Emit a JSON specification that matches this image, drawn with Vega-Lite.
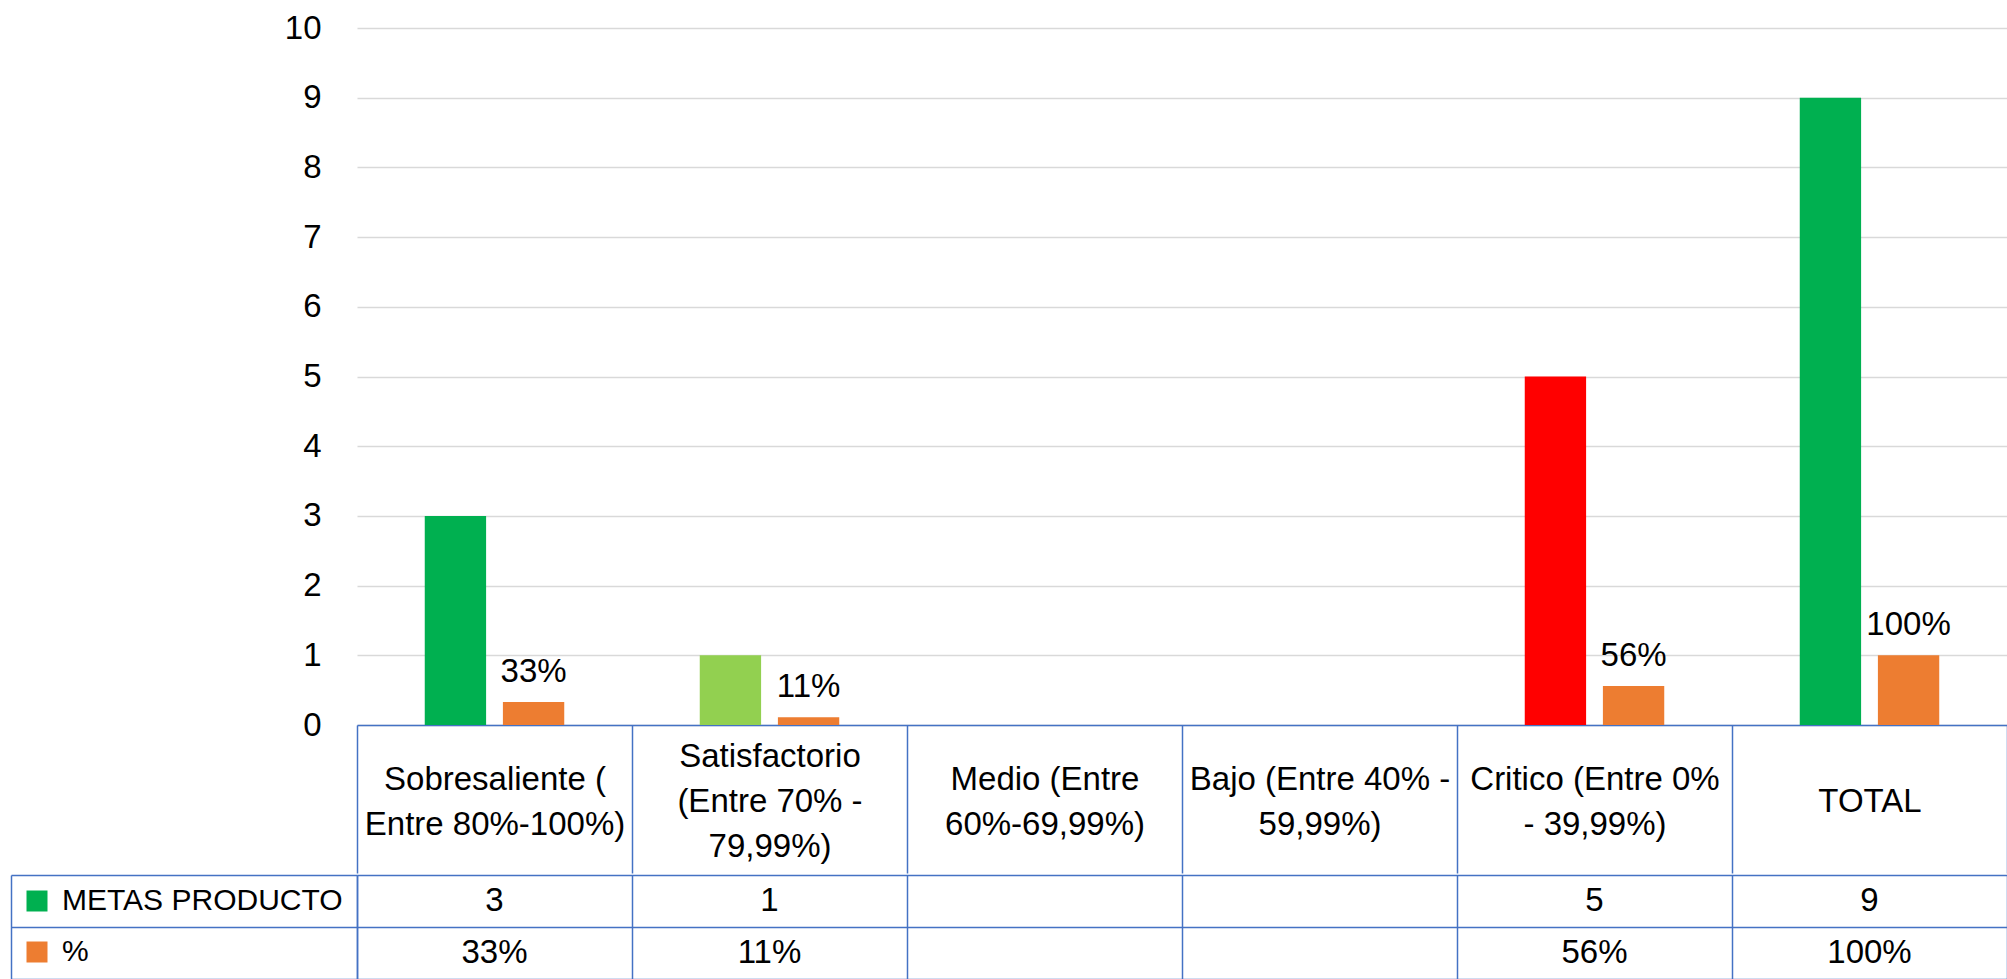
{
  "$schema": "https://vega.github.io/schema/vega-lite/v6.json",
  "background": "white",
  "padding": {"left": 10, "top": 12, "right": 0, "bottom": 0},
  "config": {"view": {"stroke": null}, "font": "Liberation Sans"},
  "datasets": {
    "tabla": [
      {"categoria": "Sobresaliente  (\nEntre 80%-100%)", "serie": "METAS PRODUCTO", "valor": 3},
      {"categoria": "Satisfactorio\n(Entre 70% -\n79,99%)", "serie": "METAS PRODUCTO", "valor": 1},
      {"categoria": "Critico (Entre 0%\n- 39,99%)", "serie": "METAS PRODUCTO", "valor": 5},
      {"categoria": "TOTAL", "serie": "METAS PRODUCTO", "valor": 9},
      {"categoria": "Sobresaliente  (\nEntre 80%-100%)", "serie": "%", "valor": 0.33},
      {"categoria": "Satisfactorio\n(Entre 70% -\n79,99%)", "serie": "%", "valor": 0.11},
      {"categoria": "Critico (Entre 0%\n- 39,99%)", "serie": "%", "valor": 0.56},
      {"categoria": "TOTAL", "serie": "%", "valor": 1.0}
    ]
  },
  "spacing": 0,
  "resolve": {"scale": {"color": "independent", "x": "independent"}, "legend": {"color": "independent"}},
  "vconcat": [
    {
      "width": 1650,
      "height": 697,
      "data": {"name": "tabla"},
      "layer": [
        {
          "mark": {"type": "bar"},
          "encoding": {
            "x": {
              "field": "categoria", "type": "nominal",
              "sort": ["Sobresaliente  (\nEntre 80%-100%)", "Satisfactorio\n(Entre 70% -\n79,99%)", "Medio (Entre\n60%-69,99%)", "Bajo (Entre 40% -\n59,99%)", "Critico (Entre 0%\n- 39,99%)", "TOTAL"],
              "scale": {"domain": ["Sobresaliente  (\nEntre 80%-100%)", "Satisfactorio\n(Entre 70% -\n79,99%)", "Medio (Entre\n60%-69,99%)", "Bajo (Entre 40% -\n59,99%)", "Critico (Entre 0%\n- 39,99%)", "TOTAL"], "paddingInner": 0, "paddingOuter": 0},
              "axis": {
                "title": null, "tickBand": "extent", "tickSize": 148, "tickColor": "#4472c4", "tickWidth": 1.5,
                "domainColor": "#4472c4", "domainWidth": 1.5, "grid": false,
                "labelExpr": "split(datum.label, '\\n')",
                "labelAngle": 0, "labelFontSize": 33, "labelColor": "#000000",
                "labelLineHeight": 45,
                "labelBaseline": {
                  "condition": [
                    {"test": "length(split(datum.value, '\\n')) == 3", "value": "line-bottom"},
                    {"test": "length(split(datum.value, '\\n')) == 2", "value": "middle"}
                  ],
                  "value": "line-top"
                },
                "labelPadding": -94, "labelLimit": 400,
                "labelOverlap": false, "labelFlush": false, "minExtent": 148, "maxExtent": 148
              }
            },
            "xOffset": {
              "field": "serie", "type": "nominal", "sort": ["METAS PRODUCTO", "%"],
              "scale": {"domain": ["METAS PRODUCTO", "%"], "paddingInner": 0.215, "paddingOuter": 0.867}
            },
            "y": {
              "field": "valor", "type": "quantitative",
              "scale": {"domain": [0, 10], "nice": false},
              "axis": {
                "title": null, "values": [0, 1, 2, 3, 4, 5, 6, 7, 8, 9, 10], "format": "d", "domain": false, "ticks": false, "tickSize": 0,
                "labelPadding": 36, "labelFontSize": 33, "labelColor": "#000000",
                "gridColor": "#d9d9d9", "gridWidth": 1.5, "minExtent": 346, "maxExtent": 346
              }
            },
            "color": {
              "condition": {"test": "datum.serie === '%'", "value": "#ed7d31"},
              "field": "categoria", "type": "nominal",
              "scale": {"domain": ["Sobresaliente  (\nEntre 80%-100%)", "Satisfactorio\n(Entre 70% -\n79,99%)", "Critico (Entre 0%\n- 39,99%)", "TOTAL"], "range": ["#00b050", "#92d050", "#ff0000", "#00b050"]},
              "legend": null
            }
          }
        },
        {
          "transform": [{"filter": "datum.serie === '%'"}],
          "mark": {"type": "text", "baseline": "alphabetic", "dy": -20, "fontSize": 33, "color": "#000000"},
          "encoding": {
            "x": {"field": "categoria", "type": "nominal"},
            "xOffset": {"field": "serie", "type": "nominal"},
            "y": {"field": "valor", "type": "quantitative"},
            "text": {"field": "valor", "type": "quantitative", "format": ".0%"}
          }
        }
      ]
    },
    {
      "width": 1650,
      "height": 104,
      "data": {"name": "tabla"},
      "resolve": {"axis": {"y": "independent"}},
      "layer": [
        {
          "transform": [{"filter": "datum.serie === 'METAS PRODUCTO'"}],
          "mark": {"type": "text", "baseline": "middle", "fontSize": 33, "color": "#000000"},
          "encoding": {
            "x": {
              "field": "categoria", "type": "nominal",
              "scale": {"domain": ["Sobresaliente  (\nEntre 80%-100%)", "Satisfactorio\n(Entre 70% -\n79,99%)", "Medio (Entre\n60%-69,99%)", "Bajo (Entre 40% -\n59,99%)", "Critico (Entre 0%\n- 39,99%)", "TOTAL"], "paddingInner": 0, "paddingOuter": 0},
              "axis": {"title": null, "labels": false, "ticks": false, "domain": false, "grid": true, "gridColor": "#4472c4", "gridWidth": 1.5, "tickBand": "extent"}
            },
            "y": {
              "field": "serie", "type": "nominal",
              "scale": {"domain": ["METAS PRODUCTO", "%"], "paddingInner": 0, "paddingOuter": 0},
              "axis": {
                "orient": "left", "title": null, "labels": false, "tickBand": "extent", "tickSize": 346, "tickColor": "#4472c4", "tickWidth": 1.5,
                "domainColor": "#4472c4", "domainWidth": 1.5, "grid": true, "gridColor": "#4472c4", "gridWidth": 1.5,
                "minExtent": 346, "maxExtent": 346
              }
            },
            "text": {"field": "valor", "type": "quantitative", "format": "d"}
          }
        },
        {
          "transform": [{"filter": "datum.serie === '%'"}],
          "mark": {"type": "text", "baseline": "middle", "fontSize": 33, "color": "#000000"},
          "encoding": {
            "x": {"field": "categoria", "type": "nominal"},
            "y": {"field": "serie", "type": "nominal", "axis": null},
            "text": {"field": "valor", "type": "quantitative", "format": ".0%"}
          }
        },
        {
          "mark": {"type": "square", "opacity": 0, "filled": true},
          "encoding": {
            "y": {
              "field": "serie", "type": "nominal",
              "axis": {"orient": "left", "offset": 346, "title": null, "labels": false, "ticks": false, "grid": false, "domainColor": "#4472c4", "domainWidth": 1.5}
            },
            "color": {
              "field": "serie", "type": "nominal",
              "scale": {"domain": ["METAS PRODUCTO", "%"], "range": ["#00b050", "#ed7d31"]},
              "legend": {
                "orient": "none", "legendX": -335, "legendY": 11, "title": null, "direction": "vertical",
                "symbolType": "square", "symbolSize": 441, "symbolOpacity": 1, "symbolStrokeWidth": 0,
                "labelFontSize": 30, "labelColor": "#000000", "labelOffset": 10, "rowPadding": 21, "padding": 0, "labelLimit": 400
              }
            }
          }
        }
      ]
    }
  ]
}
